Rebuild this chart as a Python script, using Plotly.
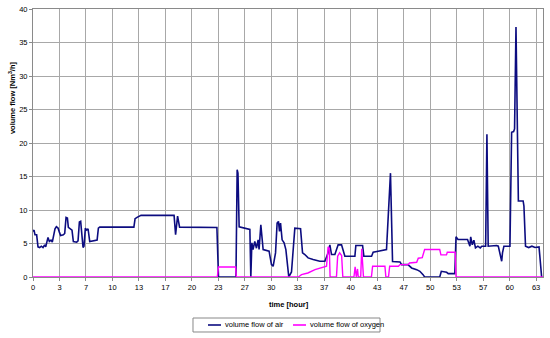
import plotly.graph_objects as go

# ---- data ----
tick_labels = ["0", "3", "7", "10", "13", "17", "20", "23", "27", "30",
               "33", "37", "40", "43", "47", "50", "53", "57", "60", "63"]

air_t = [0, 0.13, 0.25, 0.46, 0.63, 0.84, 1.05, 1.26, 1.47, 1.6, 1.72, 1.89, 2.06, 2.27, 2.43,
         2.77, 2.94, 3.15, 3.32, 3.48, 3.82, 3.99, 4.16, 4.33, 4.45, 4.7, 4.91, 5.08, 5.5, 5.67,
         5.84, 6.0, 6.17, 6.3, 6.42, 6.59, 6.76, 6.93, 7.14, 7.77, 8.07, 8.23, 8.4, 12.7, 12.85,
         13.1, 13.4, 13.6, 17.76, 17.95, 18.2, 18.45, 23.15, 23.35, 25.55, 25.7, 25.8, 25.95,
         27.3, 27.42, 27.55, 27.7, 27.92, 28.13, 28.34, 28.46, 28.68, 28.85, 28.97, 29.72,
         30.02, 30.23, 30.53, 30.73, 30.9, 31.03, 31.16, 31.36, 31.61, 31.83, 31.99, 32.2,
         32.54, 32.96, 33.68, 33.93, 34.22, 34.63, 35.26, 36.1, 36.74, 37.15, 37.37, 37.58,
         38.0, 38.41, 38.84, 39.04, 39.26, 40.52, 40.64, 41.49, 41.65, 42.62, 42.82, 43.45,
         44.3, 44.5, 45.0, 45.26, 46.2, 46.4, 47.2, 47.66, 48.3, 48.7, 49.1, 49.3, 51.2, 51.4,
         52.07, 52.27, 53.1, 53.25, 53.5, 54.7, 55.0, 55.1, 55.3, 55.5, 55.7, 56.0, 56.3, 56.5,
         56.98, 57.14, 57.3, 58.36, 58.57, 58.8, 59.0, 59.1, 59.28, 60.04, 60.25, 60.5, 60.62,
         60.8, 61.1, 61.7, 61.8, 62.0, 62.4, 62.8, 63.2, 63.7, 64.03]
air_v = [6.8, 7.0, 6.3, 6.3, 4.5, 4.4, 4.6, 4.4, 4.8, 4.5, 5.1, 5.9, 5.3, 5.5, 5.2,
         7.2, 7.5, 7.3, 6.7, 6.2, 6.3, 6.5, 8.9, 8.8, 7.4, 7.2, 7.0, 5.3, 5.2, 5.4,
         8.2, 8.3, 5.8, 4.4, 4.6, 7.3, 7.0, 7.2, 5.3, 5.4, 5.5, 7.3, 7.45, 7.45, 8.7,
         8.9, 9.1, 9.2, 9.2, 6.3, 9.1, 7.45, 7.4, 0, 0, 16.0, 15.5, 7.5,
         7.1, 0, 5.1, 4.1, 5.3, 4.3, 5.55, 4.1, 7.8, 6.1, 4.1, 3.85,
         1.85, 1.6, 3.6, 8.05, 8.3, 6.8, 8.05, 5.55, 5.1, 4.1, 2.6, 0,
         0.75, 7.3, 7.2, 3.6, 3.35, 2.85, 2.6, 2.35, 2.35, 3.6, 4.8, 3.35,
         3.35, 4.8, 4.8, 4.1, 3.1, 3.1, 4.7, 4.7, 3.1, 3.1, 3.7, 3.85,
         4.0, 4.1, 15.5, 2.3, 2.25, 1.85, 1.85, 1.35, 1.1, 0.85, 0.35, 0, 0, 0.85,
         0.7, 0.5, 0.5, 6.0, 5.6, 5.6, 4.6, 6.0, 4.8, 5.5, 4.35, 4.6, 4.35, 4.6,
         4.6, 21.3, 4.6, 4.7, 4.6, 3.6, 2.35, 3.6, 4.6, 4.6, 21.6, 21.7, 22.1,
         37.3, 11.35, 11.35, 10.6, 4.6, 4.4, 4.6, 4.4, 4.5, 0]

oxy_t = [0, 23.2, 23.35, 25.5, 25.6, 33.4, 33.8, 34.6, 35.5, 36.3, 36.95, 37.15, 37.3, 37.4,
         38.2, 38.35, 38.6, 38.85, 39.0, 40.4, 40.55, 40.7, 40.85, 40.95, 41.25, 41.38, 41.6,
         42.6, 42.75, 44.3, 44.42, 44.75, 44.9, 46.0, 46.2, 47.2, 47.4, 48.3, 48.5, 49.0, 49.3,
         51.2, 51.35, 52.05, 52.15, 53.15, 53.25, 64.2]
oxy_v = [0, 0, 1.5, 1.5, 0, 0, 0.35, 0.6, 1.1, 1.35, 1.6, 4.5, 4.3, 0,
         0, 3.1, 3.6, 3.2, 0, 0, 1.5, 0, 1.2, 0, 0, 4.2, 0,
         0, 1.6, 1.6, 0, 0, 1.6, 1.6, 1.85, 1.85, 2.1, 2.2, 2.8, 2.9, 4.1,
         4.1, 3.3, 3.3, 3.7, 3.7, 0, 0]

series_names = ["volume flow of air", "volume flow of oxygen"]
series_colors = ["#0c0c80", "#ff00ff"]

# ---- figure ----
FONT = "Arial, Liberation Sans, sans-serif"
GRID = "#a8a8a8"

fig = go.Figure()
fig.add_trace(go.Scatter(x=air_t, y=air_v, mode="lines", name=series_names[0],
                         line=dict(color=series_colors[0], width=1.6)))
fig.add_trace(go.Scatter(x=oxy_t, y=oxy_v, mode="lines", name=series_names[1],
                         line=dict(color=series_colors[1], width=1.4)))

tick_vals = [i * 10 / 3 for i in range(len(tick_labels))]

# custom legend (box, line samples, labels) in paper coordinates
legend_shapes = [
    dict(type="rect", xref="paper", yref="paper", x0=0.3137, x1=0.6804, y0=-0.2052, y1=-0.153,
         line=dict(color="#888888", width=1), fillcolor="white"),
    dict(type="line", xref="paper", yref="paper", x0=0.3431, x1=0.3686, y0=-0.1791, y1=-0.1791,
         line=dict(color=series_colors[0], width=1.6)),
    dict(type="line", xref="paper", yref="paper", x0=0.5098, x1=0.5353, y0=-0.1791, y1=-0.1791,
         line=dict(color=series_colors[1], width=1.6)),
]
legend_texts = [
    dict(text=series_names[0], xref="paper", yref="paper", x=0.3725, y=-0.1791,
         xanchor="left", yanchor="middle", showarrow=False, font=dict(size=7.5, family=FONT)),
    dict(text=series_names[1], xref="paper", yref="paper", x=0.5392, y=-0.1791,
         xanchor="left", yanchor="middle", showarrow=False, font=dict(size=7.5, family=FONT)),
]

fig.update_layout(
    width=550, height=338,
    margin=dict(l=33, r=7, t=9, b=61, autoexpand=False),
    paper_bgcolor="white", plot_bgcolor="white",
    font=dict(family=FONT, size=7.5, color="#000000"),
    showlegend=False,
    xaxis=dict(range=[0, 64.2], tickvals=tick_vals, ticktext=tick_labels,
               showgrid=True, gridcolor=GRID, gridwidth=1,
               showline=True, linecolor="#8a8a8a", linewidth=1, mirror=True,
               ticks="outside", ticklen=3, tickcolor="#8a8a8a",
               zeroline=False, tickfont=dict(size=7.5)),
    yaxis=dict(range=[0, 40], dtick=5, tick0=0,
               showgrid=True, gridcolor=GRID, gridwidth=1,
               showline=True, linecolor="#8a8a8a", linewidth=1, mirror=True,
               ticks="outside", ticklen=3, tickcolor="#8a8a8a",
               zeroline=False, tickfont=dict(size=7.5)),
    shapes=legend_shapes,
    annotations=[
        dict(text="<b>time [hour]</b>", xref="paper", yref="paper", x=0.502, y=-0.104,
             xanchor="center", yanchor="middle", showarrow=False,
             font=dict(size=7.5, family=FONT)),
        dict(text="<b>volume flow [Nm<sup>3</sup>/h]</b>", xref="paper", yref="paper",
             x=-0.041, y=0.668, xanchor="center", yanchor="middle", textangle=-90,
             showarrow=False, font=dict(size=7.5, family=FONT)),
    ] + legend_texts,
)

fig.write_html("out.html",
               config={"displayModeBar": False},
               post_script="document.body.style.margin='0';document.body.style.overflow='hidden';")
